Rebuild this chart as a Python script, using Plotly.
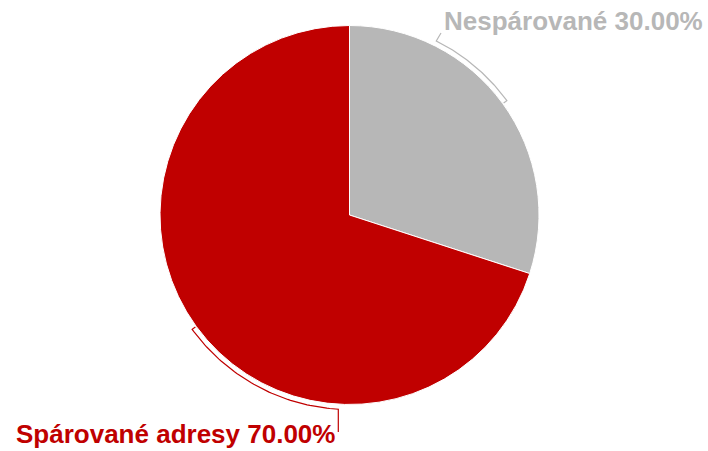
import math
import plotly.graph_objects as go

# ---- data ----
labels = ["Nespárované", "Spárované adresy"]
values = [30.0, 70.0]
colors = ["#B7B7B7", "#C00000"]

# ---- layout geometry (pixels) ----
W, H = 708, 451
cx, cy, r = 349.5, 215.0, 189.5
arc_off = 5.0
# angle (deg, clockwise from 12 o'clock) where each connector arc ends near its label
arc_end = [26.5, 183.3]
label_pos = [(442, 21, "left"), (337, 434, "right")]
lead_end = [(441, 33), None]

fig = go.Figure()
fig.add_trace(go.Pie(
    labels=labels, values=values, sort=False, direction="clockwise", rotation=0,
    marker=dict(colors=colors, line=dict(color="white", width=1)),
    textinfo="none", hoverinfo="skip", showlegend=False,
    domain=dict(x=[(cx - r) / W, (cx + r) / W], y=[(H - cy - r) / H, (H - cy + r) / H]),
))

def pt(rad, ang):
    a = math.radians(ang)
    return cx + rad * math.sin(a), cy - rad * math.cos(a)

total = sum(values)
start = 0.0
for i, v in enumerate(values):
    span = v / total * 360.0
    mid = start + span / 2
    start += span
    xs, ys = [], []
    x0, y0 = pt(r + 1, mid)
    xs.append(x0); ys.append(y0)
    n = 60
    for k in range(n + 1):
        ang = mid + (arc_end[i] - mid) * k / n
        x, y = pt(r + arc_off, ang)
        xs.append(x); ys.append(y)
    if lead_end[i] is not None:
        xs.append(lead_end[i][0]); ys.append(lead_end[i][1])
    else:
        xs.append(xs[-1]); ys.append(432)
    fig.add_trace(go.Scatter(x=xs, y=ys, mode="lines", line=dict(color=colors[i], width=1.2),
                             hoverinfo="skip", showlegend=False))
    lx, ly, anc = label_pos[i]
    fig.add_annotation(x=lx, y=ly, xref="x", yref="y", xanchor=anc, yanchor="middle",
                       text=f"{labels[i]} {v:.2f}%", showarrow=False,
                       font=dict(family="Liberation Sans, Arial, sans-serif", size=26,
                                 color=colors[i], weight="bold"))

fig.update_layout(
    width=W, height=H, margin=dict(l=0, r=0, t=0, b=0),
    paper_bgcolor="white", plot_bgcolor="rgba(0,0,0,0)",
    xaxis=dict(range=[0, W], visible=False, fixedrange=True),
    yaxis=dict(range=[H, 0], visible=False, fixedrange=True),
)
fig.write_html("out.html", config={"displayModeBar": False, "staticPlot": True},
               post_script="document.body.style.margin='0';document.body.style.overflow='hidden';")
